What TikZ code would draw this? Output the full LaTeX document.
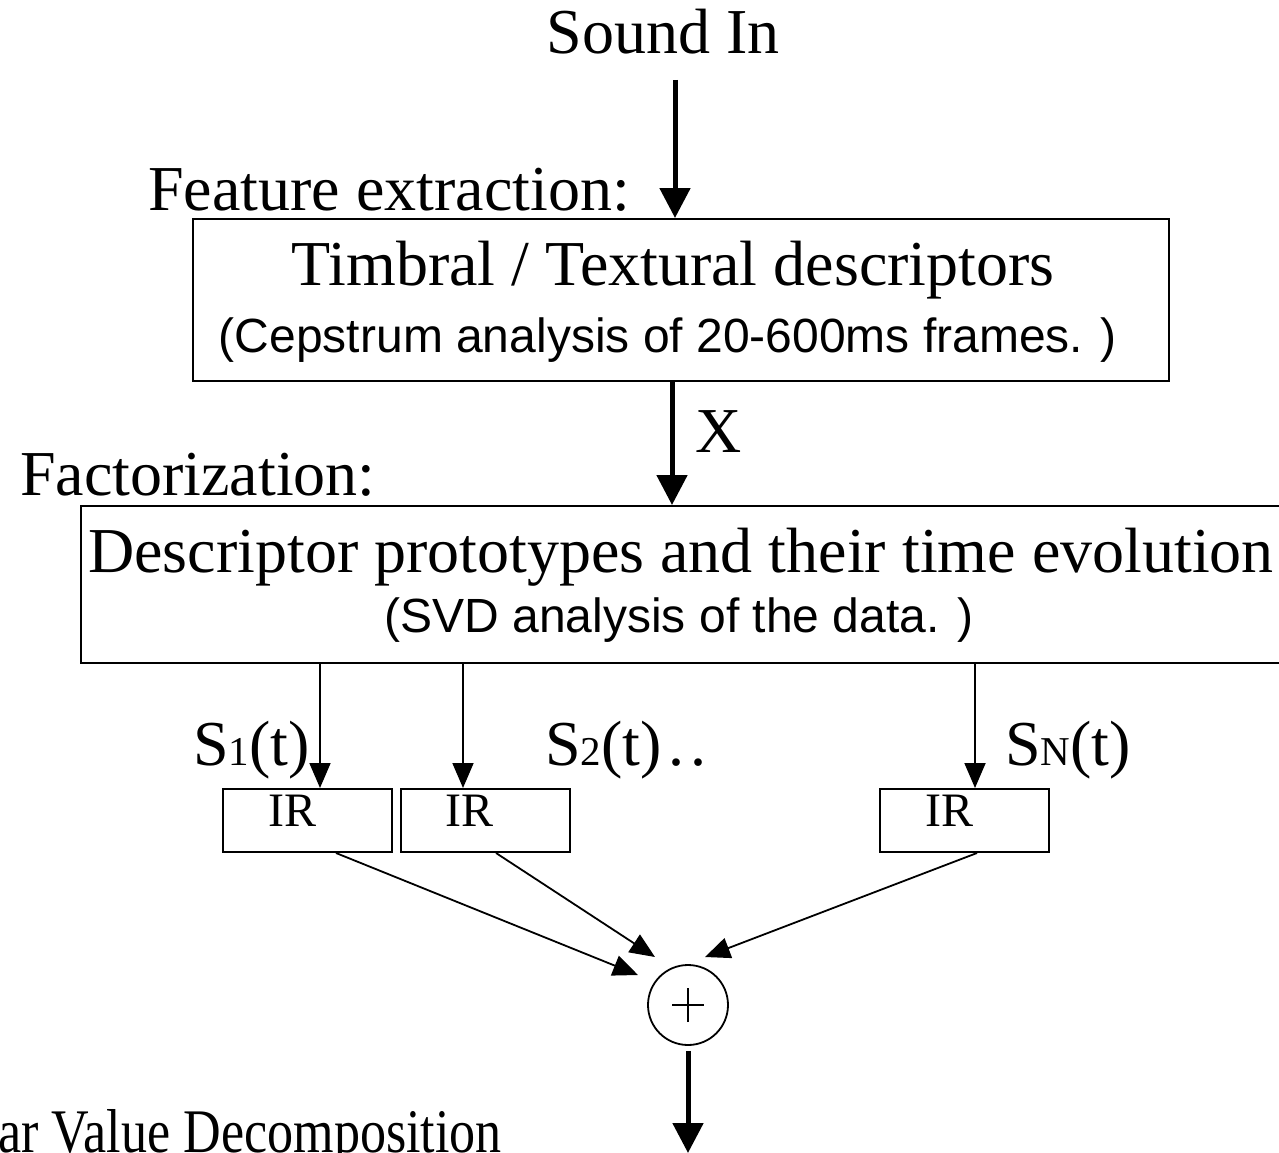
\documentclass[tikz,border=0pt]{standalone}
\usepackage{fontspec}
\setmainfont{Liberation Serif}
\newfontfamily\notesans{Liberation Sans}
\usetikzlibrary{arrows.meta}

\newcommand\fsz[1]{\fontsize{#1}{#1}\selectfont}
\newcommand\lowsub[1]{{\fsz{41}#1}}

\begin{document}
\begin{tikzpicture}[x=1pt,y=-1pt,
  title/.style={inner sep=0pt, font=\fsz{64}},
  note/.style={inner sep=0pt, font=\notesans\fsz{48}},
  irtext/.style={inner sep=0pt, font=\fsz{48}, anchor=base west},
  sig/.style={inner sep=0pt, font=\fsz{64}, anchor=base west},
  block/.style={draw, line width=2pt, inner sep=0pt, anchor=north west},
  irbox/.style={draw, line width=2pt, inner sep=0pt, anchor=north west,
                minimum width=169pt, minimum height=63pt},
  bigarrow/.style={line width=5pt, -{Triangle[width=30pt,length=30pt]}},
  smallarrow/.style={line width=1.8pt, -{Triangle[width=21pt,length=25pt]}},
  ]
\useasboundingbox (0,0) rectangle (1279,1153);

% input
\node[title, anchor=base] (soundin) at (663,54) {Sound In};
\coordinate (in) at (675,80);

% feature extraction block
\node[title, anchor=base west] (featlbl) at (148,210) {Feature extraction:};
\node[block, minimum width=976pt, minimum height=162pt] (feat) at (192,218) {};
\node[title, anchor=base] (feattxt) at (673,285) {Timbral / Textural descriptors};
\node[note, anchor=base] (featnote) at (668,352) {(Cepstrum analysis of 20-600ms frames. )};
\draw[bigarrow] (in) -- (feat.north -| in);

% factorization block
\coordinate (xaxis) at (672,0);
\node[title, anchor=base west] (xlbl) at (695,452) {X};
\node[title, anchor=base west] (factlbl) at (20,495) {Factorization:};
\node[block, minimum width=1215pt, minimum height=157pt] (fact) at (80,505) {};
\node[title, anchor=base west] (facttxt) at (88,572) {Descriptor prototypes and their time evolution};
\node[note, anchor=base] (factnote) at (679,632) {(SVD analysis of the data. )};
\draw[bigarrow] (feat.south -| xaxis) -- (fact.north -| xaxis);

% impulse responses
\node[irbox] (ir1) at (222,788) {};
\node[irbox] (ir2) at (400,788) {};
\node[irbox] (ir3) at (879,788) {};
\node[irtext] (ir1txt) at (268,826) {IR};
\node[irtext] (ir2txt) at (445,826) {IR};
\node[irtext] (ir3txt) at (925,826) {IR};

% component signals
\coordinate (c1) at (320,0);
\coordinate (c2) at (463,0);
\coordinate (c3) at (975,0);
\draw[smallarrow] (fact.south -| c1) -- (ir1.north -| c1);
\draw[smallarrow] (fact.south -| c2) -- (ir2.north -| c2);
\draw[smallarrow] (fact.south -| c3) -- (ir3.north -| c3);
\node[sig] (s1) at (193,765) {S\lowsub{1}(t)};
\node[sig] (s2) at (545,765) {S\lowsub{2}(t)};
\node[sig] (sdots) at (668,765) {.\kern6pt.};
\node[sig] (sn) at (1005,765) {S\lowsub{N}(t)};

% summation
\node[draw, circle, line width=1.8pt, minimum size=80pt, inner sep=0pt] (sum) at (688,1005) {};
\draw[line width=1.8pt] ([xshift=-16pt]sum.center) -- ([xshift=16pt]sum.center);
\draw[line width=1.8pt] ([yshift=-17pt]sum.center) -- ([yshift=17pt]sum.center);

\coordinate (o1) at (336,0);
\coordinate (o2) at (496,0);
\coordinate (o3) at (977,0);
\coordinate (t1) at (638,975);
\coordinate (t2) at (655,957);
\coordinate (t3) at (705,957);
\draw[smallarrow] (ir1.south -| o1) -- (t1);
\draw[smallarrow] (ir2.south -| o2) -- (t2);
\draw[smallarrow] (ir3.south -| o3) -- (t3);

% output
\coordinate (out) at (688,1153);
\draw[bigarrow] ([yshift=-5pt]sum.south) -- (out);

\node[inner sep=0pt, anchor=base east] (svdlbl) at (502,1152)
  {\scalebox{0.84}[1]{\fsz{62}Singular Value Decomposition}};
\end{tikzpicture}
\end{document}
